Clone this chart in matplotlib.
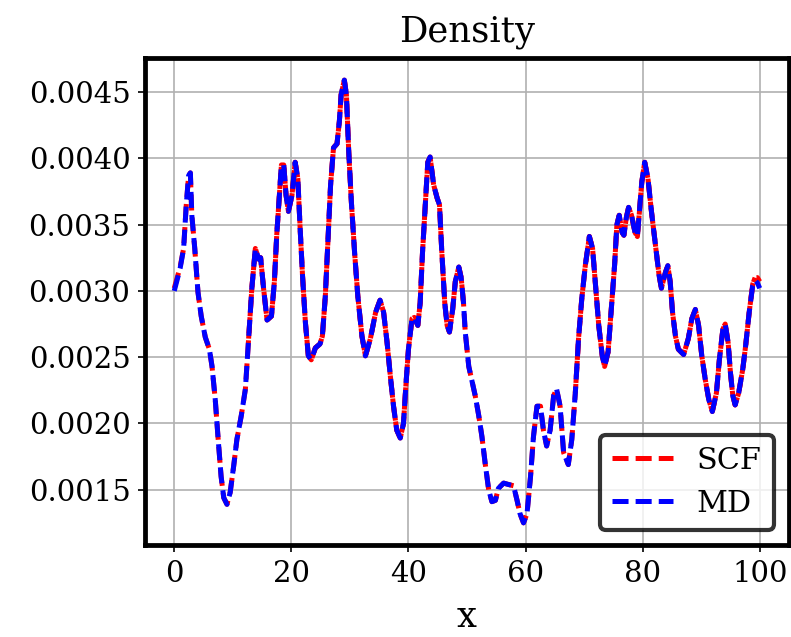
import numpy as np
import matplotlib
matplotlib.use("Agg")
import matplotlib.pyplot as plt

x = [0.0, 1.0, 1.6, 2.05, 2.45, 2.75, 3.0, 3.5, 4.05, 4.6, 5.3, 6.0, 6.45, 7.0, 7.5, 8.0, 8.45, 9.0,
     9.55, 10.15, 10.7, 11.45, 12.15, 12.7, 13.25, 13.85, 14.4, 14.75, 15.25, 15.85, 16.6, 17.1,
     17.5, 17.95, 18.3, 18.7, 19.1, 19.5, 20.1, 20.65, 21.1, 21.5, 21.9, 22.4, 22.9, 23.4, 24.1,
     24.9, 25.3, 25.8, 26.3, 26.7, 27.2, 27.8, 28.2, 28.5, 29.05, 29.4, 29.8, 30.25, 30.8, 31.35,
     32.05, 32.65, 33.5, 34.4, 35.15, 35.75, 36.35, 36.9, 37.45, 38.0, 38.6, 39.15, 39.55, 40.0,
     40.6, 41.0, 41.6, 42.0, 42.4, 42.9, 43.3, 43.7, 44.3, 44.9, 45.3, 45.7, 46.2, 46.6, 47.0,
     47.55, 48.0, 48.6, 49.0, 49.4, 49.7, 50.3, 50.9, 51.4, 52.0, 52.55, 53.1, 53.7, 54.25, 54.85,
     55.35, 56.25, 57.05, 57.95, 58.55, 59.05, 59.65, 60.25, 60.85, 61.35, 61.95, 62.55, 63.05,
     63.6, 64.2, 64.8, 65.3, 65.9, 66.5, 67.3, 67.9, 68.5, 69.05, 69.6, 70.2, 70.9, 71.45, 71.9,
     72.5, 73.1, 73.5, 74.1, 74.6, 75.2, 75.6, 76.0, 76.5, 76.8, 77.2, 77.6, 78.1, 78.7, 79.1,
     79.4, 79.85, 80.35, 80.9, 81.5, 82.2, 82.8, 83.2, 83.9, 84.3, 84.7, 85.1, 85.6, 86.1, 87.0,
     87.8, 88.4, 89.0, 89.55, 90.1, 90.7, 91.3, 91.9, 92.6, 93.1, 93.7, 94.1, 94.6, 95.0, 95.4,
     95.8, 96.4, 97.1, 97.6, 98.2, 98.8, 99.2, 99.6, 100.0]

md = [0.00300, 0.00317, 0.00332, 0.00365, 0.00387, 0.00389, 0.00357, 0.00332, 0.00299, 0.00281,
      0.00265, 0.00256, 0.00243, 0.00218, 0.00188, 0.00160, 0.00144, 0.00139, 0.00148, 0.00168,
      0.00188, 0.00206, 0.00226, 0.00264, 0.00302, 0.00332, 0.00324, 0.00325, 0.00302, 0.00278,
      0.00281, 0.00307, 0.00342, 0.00372, 0.00395, 0.00395, 0.00372, 0.00360, 0.00372, 0.00397,
      0.00385, 0.00347, 0.00312, 0.00276, 0.00251, 0.00248, 0.00257, 0.00260, 0.00266, 0.00296,
      0.00342, 0.00380, 0.00408, 0.00411, 0.00428, 0.00448, 0.00459, 0.00448, 0.00405, 0.00367,
      0.00329, 0.00296, 0.00266, 0.00251, 0.00264, 0.00284, 0.00293, 0.00284, 0.00261, 0.00236,
      0.00213, 0.00195, 0.00189, 0.00200, 0.00228, 0.00256, 0.00279, 0.00280, 0.00274, 0.00291,
      0.00329, 0.00367, 0.00397, 0.00401, 0.00380, 0.00370, 0.00365, 0.00329, 0.00291, 0.00274,
      0.00269, 0.00286, 0.00307, 0.00318, 0.00310, 0.00291, 0.00269, 0.00243, 0.00231, 0.00221,
      0.00206, 0.00190, 0.00170, 0.00150, 0.00141, 0.00142, 0.00151, 0.00155, 0.00154, 0.00153,
      0.00142, 0.00132, 0.00125, 0.00132, 0.00160, 0.00190, 0.00213, 0.00213, 0.00195, 0.00183,
      0.00195, 0.00221, 0.00226, 0.00213, 0.00178, 0.00169, 0.00188, 0.00223, 0.00264, 0.00294,
      0.00319, 0.00341, 0.00332, 0.00307, 0.00274, 0.00251, 0.00243, 0.00254, 0.00284, 0.00319,
      0.00350, 0.00357, 0.00344, 0.00342, 0.00355, 0.00363, 0.00357, 0.00344, 0.00341, 0.00357,
      0.00382, 0.00397, 0.00385, 0.00360, 0.00334, 0.00312, 0.00302, 0.00314, 0.00319, 0.00307,
      0.00284, 0.00266, 0.00256, 0.00252, 0.00264, 0.00279, 0.00286, 0.00274, 0.00251, 0.00233,
      0.00218, 0.00209, 0.00223, 0.00248, 0.00271, 0.00275, 0.00261, 0.00238, 0.00221, 0.00214,
      0.00223, 0.00241, 0.00259, 0.00284, 0.00304, 0.00308, 0.00306, 0.00302]

scf = [0.00302, 0.00318, 0.00332, 0.00365, 0.00387, 0.00389, 0.00357, 0.00332, 0.00299, 0.00281,
       0.00265, 0.00256, 0.00243, 0.00218, 0.00188, 0.00160, 0.00144, 0.00139, 0.00148, 0.00168,
       0.00188, 0.00206, 0.00226, 0.00264, 0.00302, 0.00332, 0.00324, 0.00325, 0.00302, 0.00278,
       0.00281, 0.00307, 0.00342, 0.00372, 0.00395, 0.00395, 0.00372, 0.00360, 0.00372, 0.00397,
       0.00385, 0.00347, 0.00312, 0.00276, 0.00251, 0.00248, 0.00257, 0.00260, 0.00266, 0.00296,
       0.00342, 0.00380, 0.00408, 0.00411, 0.00428, 0.00448, 0.00459, 0.00448, 0.00405, 0.00367,
       0.00329, 0.00296, 0.00266, 0.00251, 0.00264, 0.00284, 0.00293, 0.00284, 0.00261, 0.00236,
       0.00213, 0.00195, 0.00189, 0.00200, 0.00228, 0.00256, 0.00279, 0.00280, 0.00274, 0.00291,
       0.00329, 0.00367, 0.00397, 0.00401, 0.00380, 0.00370, 0.00365, 0.00329, 0.00291, 0.00274,
       0.00269, 0.00286, 0.00307, 0.00318, 0.00310, 0.00291, 0.00269, 0.00243, 0.00231, 0.00221,
       0.00206, 0.00190, 0.00170, 0.00150, 0.00141, 0.00142, 0.00151, 0.00155, 0.00154, 0.00153,
       0.00142, 0.00132, 0.00125, 0.00132, 0.00160, 0.00190, 0.00213, 0.00213, 0.00195, 0.00183,
       0.00195, 0.00221, 0.00226, 0.00213, 0.00178, 0.00169, 0.00188, 0.00223, 0.00264, 0.00294,
       0.00319, 0.00341, 0.00332, 0.00307, 0.00274, 0.00251, 0.00243, 0.00254, 0.00284, 0.00319,
       0.00350, 0.00357, 0.00344, 0.00342, 0.00355, 0.00363, 0.00357, 0.00344, 0.00341, 0.00357,
       0.00382, 0.00397, 0.00385, 0.00360, 0.00334, 0.00312, 0.00302, 0.00314, 0.00319, 0.00307,
       0.00284, 0.00266, 0.00256, 0.00252, 0.00264, 0.00279, 0.00286, 0.00274, 0.00251, 0.00233,
       0.00218, 0.00209, 0.00223, 0.00248, 0.00271, 0.00275, 0.00261, 0.00238, 0.00221, 0.00214,
       0.00223, 0.00241, 0.00259, 0.00284, 0.00305, 0.00310, 0.00310, 0.00307]

title = "Density"
xlabel = "x"

plt.rcParams['font.family'] = ['DejaVu Serif']
plt.rcParams['font.size'] = 14

fig = plt.figure(figsize=(791 / 150, 637 / 150), dpi=150)
ax = fig.add_axes([0.1833, 0.1444, 0.8142, 0.7646])

LW = 2.4
ON, OFF = 7.7 / LW, 3.4 / LW   # dash / gap lengths (points) before linewidth scaling

x_arr = np.asarray(x)
md_arr = np.asarray(md)
scf_arr = np.asarray(scf)

ax.plot(x_arr, scf_arr, color='red', lw=LW, ls=(0, (ON, OFF)), label='SCF', zorder=2)
ax.plot(x_arr, md_arr, color='blue', lw=LW, ls=(0, (ON, OFF)), label='MD', zorder=4)

ax.get_xlim(); ax.get_ylim()
pts = ax.transData.transform(np.column_stack([x_arr, md_arr]))
seg = np.hypot(np.diff(pts[:, 0]), np.diff(pts[:, 1]))
cum = np.concatenate([[0.0], np.cumsum(seg)]) * 72.0 / fig.dpi  # in points
period = (ON + OFF) * LW

# segments where SCF dashes show through gaps of the MD dashes
for xa, xb in [(12.5, 49.2), (68.0, 99.0)]:
    i0 = int(np.searchsorted(x_arr, xa))
    i1 = int(np.searchsorted(x_arr, xb)) + 1
    off_pts = (cum[i0] - (ON * LW + OFF * LW) / 2.0 - ON * LW / 2.0) % period
    ax.plot(x_arr[i0:i1], scf_arr[i0:i1], color='red', lw=LW,
            ls=(off_pts / LW, (ON, OFF)), zorder=3)

ax.grid(True, color='#b0b0b0', lw=0.8)
for s in ax.spines.values():
    s.set_linewidth(2.3)
ax.set_title(title, fontsize=17, pad=8)
ax.set_xlabel(xlabel, fontsize=17, labelpad=6)
ax.set_xticks([0, 20, 40, 60, 80, 100])
leg = ax.legend(loc='lower right', fontsize=14.5)
leg.get_frame().set_edgecolor('black')
leg.get_frame().set_linewidth(2.0)

fig.savefig('out.png', dpi=150)
